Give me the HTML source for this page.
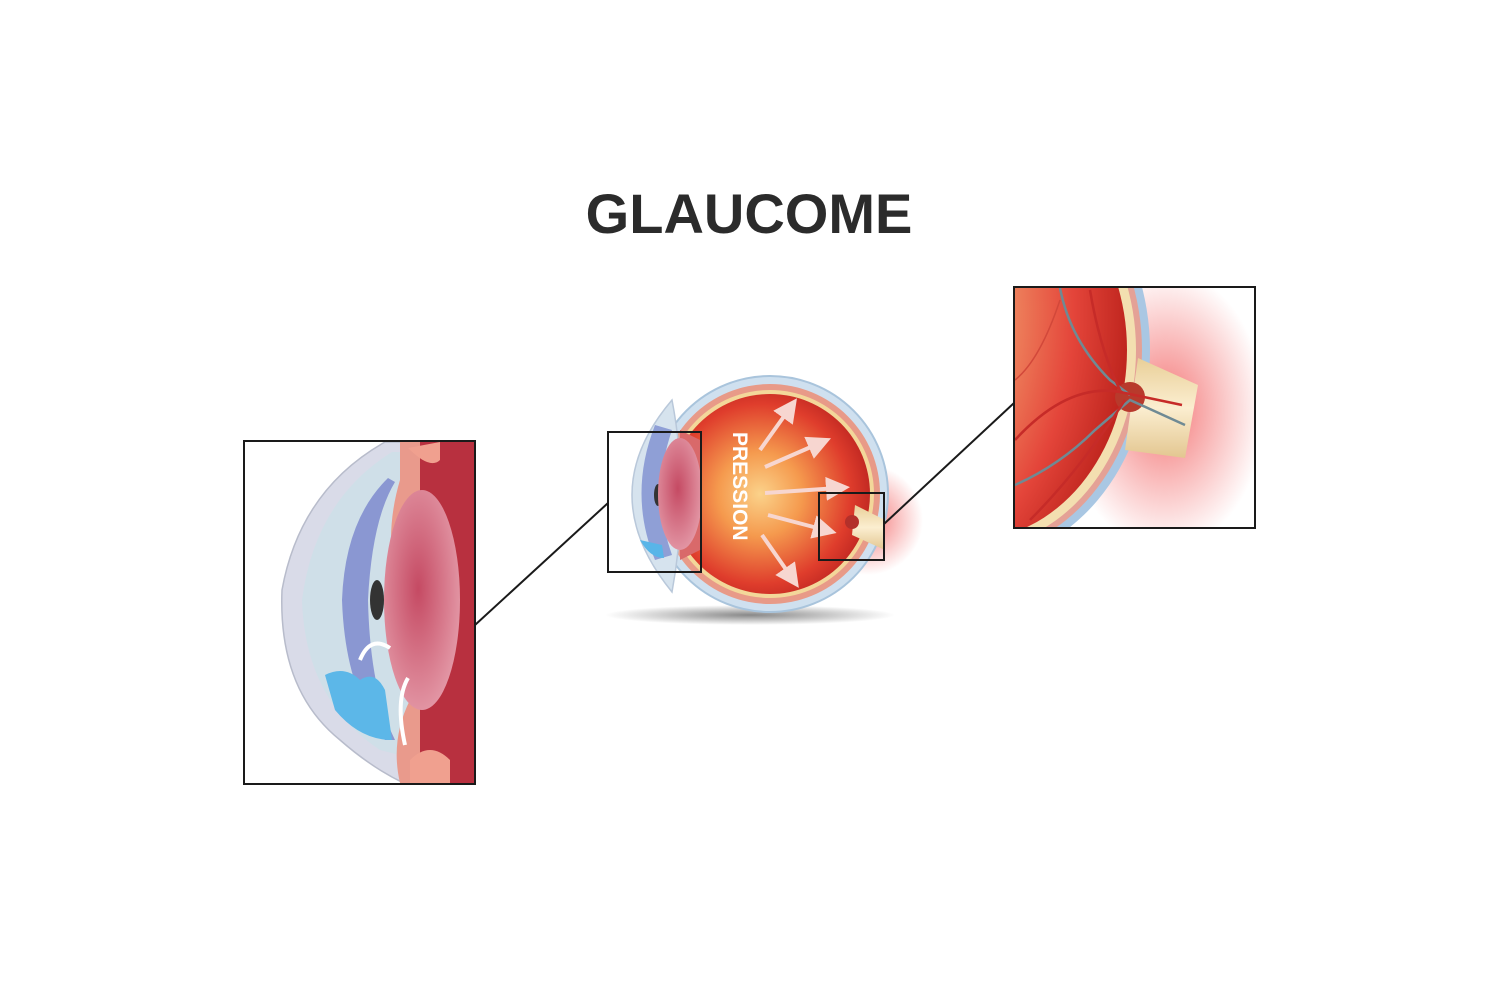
<!DOCTYPE html>
<html><head><meta charset="utf-8"><style>
html,body{margin:0;padding:0;background:#fff;}
svg{display:block}
</style></head><body>
<svg width="1500" height="1000" viewBox="0 0 1500 1000" xmlns="http://www.w3.org/2000/svg">
<defs>
<radialGradient id="glow" cx="0.5" cy="0.5" r="0.5">
<stop offset="0" stop-color="#f04a4a" stop-opacity="0.75"/><stop offset="1" stop-color="#f04a4a" stop-opacity="0"/>
</radialGradient>
<radialGradient id="inner" cx="0.45" cy="0.5" r="0.6">
<stop offset="0" stop-color="#fbd28a"/><stop offset="0.35" stop-color="#f59a4e"/><stop offset="0.75" stop-color="#df3d2c"/><stop offset="1" stop-color="#b5201e"/>
</radialGradient>
<radialGradient id="retR" cx="0.05" cy="0.4" r="0.95">
<stop offset="0" stop-color="#fbd2a4"/><stop offset="0.5" stop-color="#f3a470"/><stop offset="0.82" stop-color="#e4453a"/><stop offset="1" stop-color="#c0261f"/>
</radialGradient>
<radialGradient id="lens" cx="0.45" cy="0.45" r="0.6">
<stop offset="0" stop-color="#c54a63"/><stop offset="1" stop-color="#e49aa8"/>
</radialGradient>
<radialGradient id="shadow" cx="0.5" cy="0.5" r="0.5">
<stop offset="0" stop-color="#555" stop-opacity="0.7"/><stop offset="1" stop-color="#555" stop-opacity="0"/>
</radialGradient>
<linearGradient id="nerve" x1="0" y1="0" x2="0" y2="1">
<stop offset="0" stop-color="#e9cf98"/><stop offset="0.5" stop-color="#fbeed0"/><stop offset="1" stop-color="#e3c690"/>
</linearGradient>
<clipPath id="cL"><rect x="245" y="442" width="229" height="341"/></clipPath>
<clipPath id="cR"><rect x="1015" y="288" width="239" height="239"/></clipPath>
<marker id="ah" markerWidth="6" markerHeight="6" refX="3" refY="3" orient="auto"><path d="M0,0 L6,3 L0,6 Z" fill="#f7d6d0"/></marker>
</defs>

<text x="749" y="233" text-anchor="middle" font-family="Liberation Sans, sans-serif" font-weight="bold" font-size="56" fill="#2b2b2b">GLAUCOME</text>

<!-- Center eye -->
<ellipse cx="750" cy="615" rx="145" ry="10" fill="url(#shadow)"/>
<circle cx="868" cy="520" r="55" fill="url(#glow)"/>
<circle cx="770" cy="494" r="118" fill="#cfe0ef" stroke="#a9c4dc" stroke-width="2"/>
<circle cx="770" cy="494" r="110" fill="#e89a88"/>
<circle cx="770" cy="494" r="104" fill="#f3d79a"/>
<circle cx="770" cy="494" r="100" fill="url(#inner)"/>
<path d="M855,505 L885,520 L885,550 L852,535 Z" fill="url(#nerve)"/>
<circle cx="852" cy="522" r="7" fill="#b3302a"/>
<path d="M672,400 Q592,494 672,592 Q690,494 672,400 Z" fill="#d6e3ee" stroke="#b9c8da" stroke-width="1.5"/>
<path d="M655,425 Q628,494 655,560 L672,555 Q650,494 672,430 Z" fill="#8f9fd6"/>
<ellipse cx="658" cy="495" rx="4" ry="11" fill="#333"/>
<path d="M680,430 L700,440 L700,550 L680,560 Z" fill="#d9696a"/>
<ellipse cx="680" cy="494" rx="22" ry="56" fill="url(#lens)"/>
<path d="M640,540 Q650,558 664,558 L662,545 Z" fill="#58b5e8"/>
<g stroke="#f7d6d0" stroke-width="4" marker-end="url(#ah)" fill="none">
<line x1="760" y1="450" x2="790" y2="408"/>
<line x1="765" y1="467" x2="820" y2="443"/>
<line x1="765" y1="493" x2="838" y2="488"/>
<line x1="768" y1="515" x2="825" y2="530"/>
<line x1="762" y1="535" x2="792" y2="578"/>
</g>
<text transform="translate(733,432) rotate(90)" font-family="Liberation Sans, sans-serif" font-weight="bold" font-size="21" fill="#fff">PRESSION</text>
<rect x="608" y="432" width="93" height="140" fill="none" stroke="#1a1a1a" stroke-width="2"/>
<rect x="819" y="493" width="65" height="67" fill="none" stroke="#1a1a1a" stroke-width="2"/>
<line x1="475" y1="625" x2="608" y2="503" stroke="#1a1a1a" stroke-width="2"/>
<line x1="884" y1="524" x2="1014" y2="403" stroke="#1a1a1a" stroke-width="2"/>

<!-- Left box -->
<g clip-path="url(#cL)">
<rect x="245" y="442" width="229" height="341" fill="#fff"/>
<path d="M385,442 Q300,490 282,590 Q278,690 340,740 Q380,775 420,790 L474,790 L474,442 Z" fill="#d9dbe8" stroke="#b8bccb" stroke-width="1.5"/>
<path d="M392,452 Q315,500 302,600 Q305,700 380,750 L420,760 L420,452 Z" fill="#cfdfe8"/>
<path d="M388,478 Q345,520 342,600 Q345,690 385,740 L395,740 Q370,690 368,600 Q372,520 395,482 Z" fill="#8a97d2"/>
<path d="M325,675 Q345,665 360,680 Q375,670 385,690 L392,740 Q360,740 335,710 Z" fill="#5cb7e8"/>
<path d="M400,442 L474,442 L474,783 L400,783 Q390,740 410,700 Q400,660 390,625 Q385,600 395,580 Q385,530 400,480 Z" fill="#e99a8c"/>
<path d="M420,442 L474,442 L474,783 L420,783 Z" fill="#b8303f"/>
<ellipse cx="422" cy="600" rx="38" ry="110" fill="url(#lens)"/>
<ellipse cx="377" cy="600" rx="7" ry="20" fill="#333"/>
<path d="M408,448 Q430,470 440,460 L440,442 Z" fill="#f0a08f"/>
<path d="M410,760 Q430,740 450,760 L450,783 L410,783 Z" fill="#f0a08f"/>
<path d="M360,660 Q370,635 390,648" stroke="#fff" stroke-width="4" fill="none"/>
<path d="M405,745 Q395,700 408,678" stroke="#fff" stroke-width="4" fill="none"/>
</g>
<rect x="244" y="441" width="231" height="343" fill="none" stroke="#1a1a1a" stroke-width="2"/>

<!-- Right box -->
<g clip-path="url(#cR)">
<rect x="1015" y="288" width="239" height="239" fill="#fff"/>
<ellipse cx="1165" cy="410" rx="100" ry="140" fill="url(#glow)"/>
<ellipse cx="970" cy="350" rx="180" ry="213" fill="#a9c7e3"/>
<ellipse cx="970" cy="350" rx="172" ry="205" fill="#e4a196"/>
<ellipse cx="970" cy="350" rx="166" ry="199" fill="#f3dfb0"/>
<path d="M1138,358 L1198,385 L1185,458 L1125,450 Z" fill="url(#nerve)"/>
<ellipse cx="970" cy="350" rx="157" ry="190" fill="url(#retR)"/>
<circle cx="1130" cy="397" r="15" fill="#b83a2c"/>
<g fill="none" stroke-width="2.5">
<path d="M1060,288 Q1070,340 1110,380 L1130,395" stroke="#6f8a94"/>
<path d="M1015,485 Q1060,465 1095,430 L1130,400 L1185,425" stroke="#6f8a94"/>
<path d="M1015,440 Q1070,380 1125,393 L1182,405" stroke="#c62b28"/>
<path d="M1090,290 Q1100,350 1120,390" stroke="#c62b28"/>
<path d="M1030,520 Q1080,470 1125,400" stroke="#c62b28"/>
<path d="M1015,380 Q1040,360 1060,300" stroke="#d2483a" stroke-width="1.5"/>
</g>
</g>
<rect x="1014" y="287" width="241" height="241" fill="none" stroke="#1a1a1a" stroke-width="2"/>
</svg>
</body></html>
